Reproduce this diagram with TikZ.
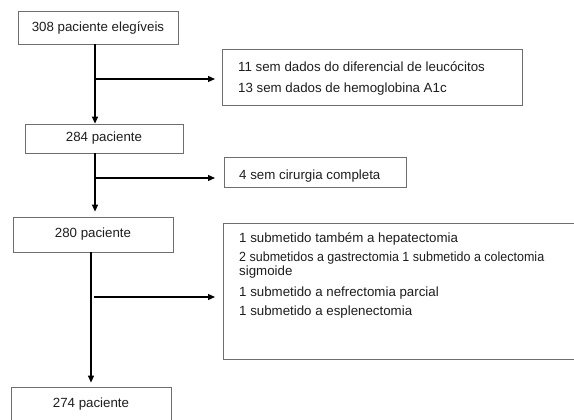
\documentclass[tikz,border=0pt]{standalone}
\usepackage{fontspec}
\setmainfont{Liberation Sans}
\newfontfamily\narrowsans[FakeStretch=0.94]{Liberation Sans}
\usetikzlibrary{arrows.meta,calc}
\definecolor{boxgray}{HTML}{6E6E6E}
\definecolor{txtcol}{HTML}{1E1E1E}
\begin{document}
\begin{tikzpicture}[x=1pt,y=-1pt,
  box/.style={draw=boxgray, line width=0.8pt, inner sep=0pt, text=txtcol,
              font=\fontsize{13.3}{15.5}\selectfont},
  txt/.style={text=txtcol, font=\fontsize{13.3}{15.5}\selectfont, inner sep=0pt, anchor=base west},
  arr/.style={draw=black, line width=1.2pt, -{Triangle[length=7pt,width=6pt]}}]
\useasboundingbox (0,0) rectangle (574,420);
\clip (0,0) rectangle (574,420);
\fill[white] (0,0) rectangle (574,420);

% left column boxes
\node[box, minimum width=160pt, minimum height=33pt] (b1) at (98,27.5) {308 paciente elegíveis};
\node[box, minimum width=158pt, minimum height=29pt] (b2) at (104,138.5) {284 paciente};
\node[box, minimum width=160pt, minimum height=35pt] (b3) at (93,234.5) {280 paciente};
\node[box, minimum width=160pt, minimum height=35pt] (b4) at (91,404.5) {274 paciente};

% right boxes
\node[box, minimum width=300pt, minimum height=56pt] (bA) at (372,77) {};
\node[txt] (a1) at (238,72) {11 sem dados do diferencial de leucócitos};
\node[txt] (a2) at (238,93) {13 sem dados de hemoglobina A1c};

\node[box, minimum width=182pt, minimum height=30pt] (bB) at (315,172) {};
\node[txt] (bt) at (239,179) {4 sem cirurgia completa};

\node[box, minimum width=357pt, minimum height=136pt] (bC) at (401.5,291) {};
\node[txt] (c1) at (239,242) {1 submetido também a hepatectomia};
\node[txt, font=\narrowsans\fontsize{13.3}{15.5}\selectfont] (c2) at (239,261.5) {2 submetidos a gastrectomia 1 submetido a colectomia};
\node[txt] (c2b) at (239,276) {sigmoide};
\node[txt] (c3) at (239,296) {1 submetido a nefrectomia parcial};
\node[txt] (c4) at (239,315) {1 submetido a esplenectomia};

% connectors
\coordinate (v1) at (95,0);
\coordinate (v3) at (91,0);
\coordinate (t1) at (215,79);
\coordinate (t2) at (215,178);
\coordinate (t3) at (215,297);
\coordinate (s3) at (94,297);

\draw[arr] (b1.south -| v1) -- (b2.north -| v1);
\draw[arr] (v1 |- t1) -- (t1);
\draw[arr] (b2.south -| v1) -- ($(b3.north -| v1)+(0,-5)$);
\draw[arr] (v1 |- t2) -- (t2);
\draw[arr] (b3.south -| v3) -- ($(b4.north -| v3)+(0,-4)$);
\draw[arr] (s3) -- (t3);
\end{tikzpicture}
\end{document}
